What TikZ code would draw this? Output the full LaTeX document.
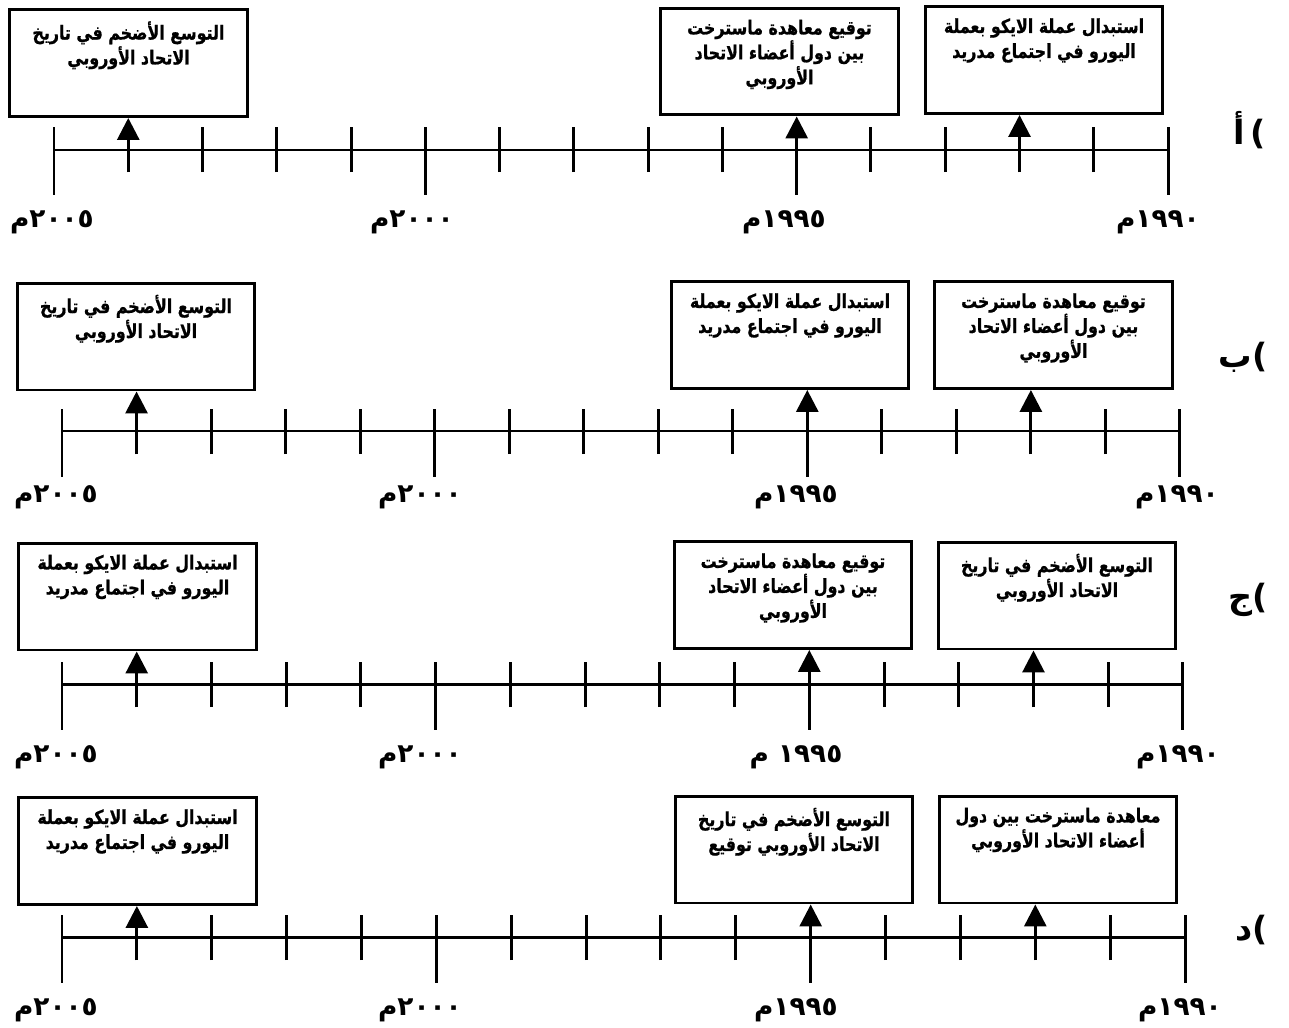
\documentclass[tikz,border=0pt]{standalone}
\usepackage{fontspec}
\newfontfamily\arabicfont[Script=Arabic]{DejaVu Sans}
\newfontfamily\boxfont[Script=Arabic, FakeStretch=0.82, FakeBold=0.8]{DejaVu Sans}
\TeXXeTstate=1
\usetikzlibrary{arrows.meta}

\newcommand{\rl}[1]{\beginR #1\endR}
\newcommand{\yr}[1]{\beginR\beginL #1\endL م\endR}
\newcommand{\evtext}[1]{\parbox[c][1.95cm][t]{4.6cm}{\vspace*{4pt}\centering\boxfont\bfseries\fontsize{11}{14.2}\selectfont #1}}
\newcommand{\yearfont}{\arabicfont\bfseries\fontsize{15}{17}\selectfont}
\newcommand{\tagfont}{\arabicfont\bfseries\fontsize{19}{21}\selectfont}

\begin{document}
\begin{tikzpicture}[x=0.02cm, y=-0.02cm,
     evbox/.style = {draw, rectangle, line width=1.7pt, inner sep=0pt, minimum width=4.76cm, minimum height=2.14cm},
     axis/.style = {line width=1.7pt},
     tick/.style = {line width=1.7pt},
     evarrow/.style = {draw, line width=1.7pt, -{Triangle[length=0.44cm,width=0.44cm]}},
     year/.style = {font=\yearfont},
     tag/.style = {font=\tagfont}
    ]
    \useasboundingbox (0,0) rectangle (1289,1028);

    % a)
    \node[evbox] (aleft) at (128.5,63) {\evtext{\rl{التوسع الأضخم في تاريخ}\\\rl{الاتحاد الأوروبي}}};
    \node[evbox] (amid) at (779.5,61.5) {\evtext{\rl{توقيع معاهدة ماسترخت}\\\rl{بين دول أعضاء الاتحاد}\\\rl{الأوروبي}}};
    \node[evbox] (aright) at (1044,60) {\evtext{\rl{استبدال عملة الايكو بعملة}\\\rl{اليورو في اجتماع مدريد}}};
    \draw[axis] (54,150) -- (1168,150);
    \foreach \k in {0,...,15} \draw[tick] ({54+\k*74.27},172) coordinate (a\k) -- ++(0,-45);
    \foreach \k in {0,5,10,15} \draw[tick] (a\k) -- ++(0,23);
    \draw[evarrow] (a1) -- (a1 |- aleft.south);
    \draw[evarrow] (a10) -- (a10 |- amid.south);
    \draw[evarrow] (a13) -- (a13 |- aright.south);
    \node[year] (ya0) at (52,222) {\yr{٢٠٠٥}};
    \node[year] (ya5) at (412,222) {\yr{٢٠٠٠}};
    \node[year] (ya10) at (784,222) {\yr{١٩٩٥}};
    \node[year] (ya15) at (1158,222) {\yr{١٩٩٠}};
    \node[tag] (taga) at (1250,130) {\hbox{أ}\,\hbox{)}};

    % b)
    \node[evbox] (bleft) at (136,336.5) {\evtext{\rl{التوسع الأضخم في تاريخ}\\\rl{الاتحاد الأوروبي}}};
    \node[evbox] (bmid) at (790,335) {\evtext{\rl{استبدال عملة الايكو بعملة}\\\rl{اليورو في اجتماع مدريد}}};
    \node[evbox] (bright) at (1053.5,335) {\evtext{\rl{توقيع معاهدة ماسترخت}\\\rl{بين دول أعضاء الاتحاد}\\\rl{الأوروبي}}};
    \draw[axis] (62,431) -- (1180,431);
    \foreach \k in {0,...,15} \draw[tick] ({62+\k*74.53},454) coordinate (b\k) -- ++(0,-45);
    \foreach \k in {0,5,10,15} \draw[tick] (b\k) -- ++(0,23);
    \draw[evarrow] (b1) -- (b1 |- bleft.south);
    \draw[evarrow] (b10) -- (b10 |- bmid.south);
    \draw[evarrow] (b13) -- (b13 |- bright.south);
    \node[year] (yb0) at (56,497) {\yr{٢٠٠٥}};
    \node[year] (yb5) at (420,497) {\yr{٢٠٠٠}};
    \node[year] (yb10) at (796,497) {\yr{١٩٩٥}};
    \node[year] (yb15) at (1177,497) {\yr{١٩٩٠}};
    \node[tag] (tagb) at (1243,357) {\hbox{ب}\hbox{)}};

    % c)
    \node[evbox] (cleft) at (137.5,596.5) {\evtext{\rl{استبدال عملة الايكو بعملة}\\\rl{اليورو في اجتماع مدريد}}};
    \node[evbox] (cmid) at (793,595) {\evtext{\rl{توقيع معاهدة ماسترخت}\\\rl{بين دول أعضاء الاتحاد}\\\rl{الأوروبي}}};
    \node[evbox] (cright) at (1057,595.5) {\evtext{\rl{التوسع الأضخم في تاريخ}\\\rl{الاتحاد الأوروبي}}};
    \draw[axis] (62,684) -- (1183,684);
    \foreach \k in {0,...,15} \draw[tick] ({62+\k*74.73},707) coordinate (c\k) -- ++(0,-45);
    \foreach \k in {0,5,10,15} \draw[tick] (c\k) -- ++(0,23);
    \draw[evarrow] (c1) -- (c1 |- cleft.south);
    \draw[evarrow] (c10) -- (c10 |- cmid.south);
    \draw[evarrow] (c13) -- (c13 |- cright.south);
    \node[year] (yc0) at (56,757) {\yr{٢٠٠٥}};
    \node[year] (yc5) at (420,757) {\yr{٢٠٠٠}};
    \node[year] (yc10) at (796,757) {\beginR\beginL ١٩٩٥\endL{} م\endR};
    \node[year] (yc15) at (1178,757) {\yr{١٩٩٠}};
    \node[tag] (tagc) at (1248,600) {\hbox{ج}\hbox{)}};

    % d)
    \node[evbox] (dleft) at (137.5,851) {\evtext{\rl{استبدال عملة الايكو بعملة}\\\rl{اليورو في اجتماع مدريد}}};
    \node[evbox] (dmid) at (794,849.5) {\evtext{\rl{التوسع الأضخم في تاريخ}\\\rl{الاتحاد الأوروبي توقيع}}};
    \node[evbox] (dright) at (1058,849.5) {\evtext{\rl{معاهدة ماسترخت بين دول}\\\rl{أعضاء الاتحاد الأوروبي}}};
    \draw[axis] (62,937) -- (1185,937);
    \foreach \k in {0,...,15} \draw[tick] ({62+\k*74.87},960) coordinate (d\k) -- ++(0,-45);
    \foreach \k in {0,5,10,15} \draw[tick] (d\k) -- ++(0,23);
    \draw[evarrow] (d1) -- (d1 |- dleft.south);
    \draw[evarrow] (d10) -- (d10 |- dmid.south);
    \draw[evarrow] (d13) -- (d13 |- dright.south);
    \node[year] (yd0) at (56,1010) {\yr{٢٠٠٥}};
    \node[year] (yd5) at (420,1010) {\yr{٢٠٠٠}};
    \node[year] (yd10) at (796,1010) {\yr{١٩٩٥}};
    \node[year] (yd15) at (1180,1010) {\yr{١٩٩٠}};
    \node[tag] (tagd) at (1252,930) {\hbox{د}\hbox{)}};

\end{tikzpicture}
\end{document}
